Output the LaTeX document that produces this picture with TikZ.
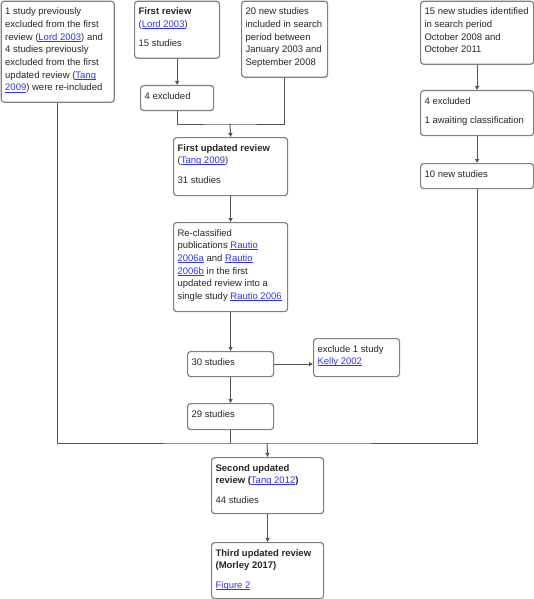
\documentclass[tikz,border=0pt]{standalone}
\usepackage{fontspec}
\setmainfont{Liberation Sans}
\usetikzlibrary{arrows.meta}
\definecolor{linkblue}{RGB}{51,51,238}
\definecolor{boxgray}{RGB}{128,128,128}
\definecolor{linegray}{RGB}{85,85,85}
\newcommand{\lnk}[1]{\textcolor{linkblue}{\setbox0\hbox{#1}\rlap{\rule[-1.3pt]{\wd0}{0.6pt}}\box0}}
\newcommand{\gap}{\\[6.8pt]}
\newcommand{\stagetext}[3]{\parbox[c][#2pt][t]{#1pt}{\leftskip=4pt\rightskip=0pt plus 1fil\vspace*{4.6pt}\strut #3}}
\begin{document}
\begin{tikzpicture}[x=1pt,y=-1pt,
  stage/.style={draw=boxgray,line width=1.2pt,rounded corners=3pt,fill=white,
    anchor=north west,inner sep=0pt,font=\fontsize{9.5}{12.7}\selectfont,text=black!85},
  flow/.style={draw=linegray,line width=1pt},
  arr/.style={color=linegray,line width=1pt,-{Triangle[length=4pt,width=4pt]}}]
\useasboundingbox (0,0) rectangle (534,599);

\node[stage] (reincl) at (0.6,0.6) {\stagetext{113}{101}{1 study previously\\excluded from the first\\review (\lnk{Lord 2003}) and\\4 studies previously\\excluded from the first\\updated review (\lnk{Tang}\\\lnk{2009}) were re-included}};
\node[stage] (first) at (134,0.6) {\stagetext{85}{57}{\textbf{First review}\\(\lnk{Lord 2003})\gap 15 studies}};
\node[stage] (newA) at (241,0.6) {\stagetext{86}{76}{20 new studies\\included in search\\period between\\January 2003 and\\September 2008}};
\node[stage] (exclA) at (140,85) {\stagetext{73}{25}{4 excluded}};
\node[stage] (upd1) at (173,137) {\stagetext{114}{58}{\textbf{First updated review}\\(\lnk{Tang 2009})\gap 31 studies}};
\node[stage] (newB) at (420,0.6) {\stagetext{113}{63}{15 new studies identified\\in search period\\October 2008 and\\October 2011}};
\node[stage] (exclB) at (420,90) {\stagetext{113}{45}{4 excluded\gap 1 awaiting classification}};
\node[stage] (newC) at (420,163) {\stagetext{113}{25}{10 new studies}};
\node[stage] (recls) at (173,222) {\stagetext{114}{89}{Re-classified\\publications \lnk{Rautio}\\\lnk{2006a} and \lnk{Rautio}\\\lnk{2006b} in the first\\updated review into a\\single study \lnk{Rautio 2006}}};
\node[stage] (s30) at (187,351) {\stagetext{86}{25}{30 studies}};
\node[stage] (kelly) at (313,338) {\stagetext{86}{38}{exclude 1 study\\\lnk{Kelly 2002}}};
\node[stage] (s29) at (187,403) {\stagetext{86}{26}{29 studies}};
\node[stage] (upd2) at (211,457) {\stagetext{112}{56}{\textbf{Second updated\\review (}\lnk{Tang 2012}\textbf{)}\gap 44 studies}};
\node[stage] (upd3) at (211,542) {\stagetext{112}{56}{\textbf{Third updated review\\(Morley 2017)}\gap \lnk{Figure 2}}};

\coordinate (joinA) at (230,124);
\coordinate (joinB) at (267,443);

\path[arr] (first.south) edge (exclA.north);
\draw[flow] (exclA.south) |- (joinA) -| (newA.south);
\path[arr] (joinA) edge (upd1.north);
\path[arr] (upd1.south) edge (recls.north);
\path[arr] (recls.south) edge (s30.north);
\path[arr] (s30.east) edge (s30.east -| kelly.west);
\path[arr] (s30.south) edge (s29.north);
\path[arr] (newB.south) edge (exclB.north);
\path[arr] (exclB.south) edge (newC.north);
\draw[flow] (reincl.south) |- (joinB) -| (newC.south);
\draw[flow] (s29.south) -- (s29.south |- joinB);
\path[arr] (joinB) edge (upd2.north);
\path[arr] (upd2.south) edge (upd3.north);
\end{tikzpicture}
\end{document}
